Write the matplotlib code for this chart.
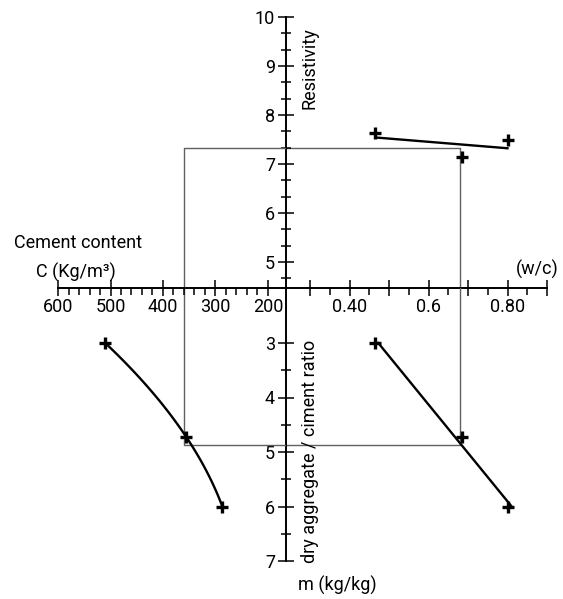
import numpy as np
import matplotlib
matplotlib.use("Agg")
import matplotlib.pyplot as plt
from matplotlib.ticker import FixedLocator, FixedFormatter, NullFormatter

plt.rcParams['font.family'] = ['Roboto', 'DejaVu Sans']

# three trial mixes
wc = [0.465, 0.685, 0.80]            # water / cement ratio
m_ratio = [3.0, 4.72, 6.0]           # dry aggregate / cement ratio
cement = [510, 356, 287]             # cement content, kg/m3
resistivity = [7.63, 7.14, 7.49]

# design reading (the rectangle)
res_read = 7.33
wc_read = 0.68
m_read = 4.87
cement_read = 360

res_ticks = [5, 6, 7, 8, 9, 10]
res_minor = [4 + 2 / 3] + [k + f for k in range(5, 10) for f in (1 / 3, 2 / 3)]
m_ticks = [3, 4, 5, 6, 7]
m_minor = [3.5, 4.5, 5.5, 6.5]
cement_ticks = [600, 500, 400, 300, 200]
cement_minor = [v for v in range(220, 600, 20) if v % 100]
wc_ticks = [0.3, 0.4, 0.5, 0.6, 0.7, 0.8, 0.9]
wc_labels = ['', '0.40', '', '0.6', '', '0.80', '']
wc_minor = [0.35, 0.45, 0.55, 0.65, 0.75, 0.85]

W, H = 563, 599
CX, CY = 286, 288
fig = plt.figure(figsize=(W / 100, H / 100), dpi=100)


# pixel -> value for each scale of the nomogram
def wc_at(px):
    return 0.3 + (px - 310) / 395


def cement_at(px):
    return 600 - (px - 58) / 0.525


def res_at(py):
    return 5 + (262 - py) / 49


def m_at(py):
    return 3 + (py - 343) / 54.5


def quad(x0, y0, x1, y1):
    ax = fig.add_axes([x0 / W, 1 - y1 / H, (x1 - x0) / W, (y1 - y0) / H])
    ax.patch.set_visible(False)
    for s in ax.spines.values():
        s.set_visible(False)
        s.set_linewidth(1.4)
    ax.tick_params(which='both', left=False, bottom=False,
                   labelleft=False, labelbottom=False, width=1.1)
    return ax


ur = quad(CX, 0, W, CY)
lr = quad(CX, CY, W, H)
ll = quad(0, CY, CX, H)
ul = quad(0, 0, CX, CY)

ur.set_xlim(wc_at(CX), wc_at(W))
ur.set_ylim(res_at(CY), res_at(0))
lr.set_xlim(wc_at(CX), wc_at(W))
lr.set_ylim(m_at(H), m_at(CY))
ll.set_xlim(cement_at(0), cement_at(CX))
ll.set_ylim(m_at(H), m_at(CY))
ul.set_xlim(cement_at(0), cement_at(CX))
ul.set_ylim(res_at(CY), res_at(0))

lab = dict(labelsize=13, pad=2)

# resistivity axis (up)
ur.spines['left'].set_visible(True)
ur.spines['left'].set_bounds(res_at(CY), 10)
ur.yaxis.set_major_locator(FixedLocator(res_ticks))
ur.yaxis.set_minor_locator(FixedLocator(res_minor))
ur.tick_params(axis='y', which='major', left=True, labelleft=True,
               direction='inout', length=12, **lab)
ur.tick_params(axis='y', which='minor', left=True, direction='inout', length=6.5)

# w/c axis (right)
ur.spines['bottom'].set_visible(True)
ur.spines['bottom'].set_bounds(wc_at(CX), 0.9)
ur.xaxis.set_major_locator(FixedLocator(wc_ticks))
ur.xaxis.set_major_formatter(FixedFormatter(wc_labels))
ur.xaxis.set_minor_locator(FixedLocator(wc_minor))
ur.tick_params(axis='x', which='major', bottom=True, labelbottom=True,
               direction='inout', length=11, **lab)
ur.tick_params(axis='x', which='minor', bottom=True, direction='out', length=5)

# m axis (down)
lr.spines['left'].set_visible(True)
lr.spines['left'].set_bounds(m_at(CY), 7)
lr.yaxis.set_major_locator(FixedLocator(m_ticks))
lr.yaxis.set_minor_locator(FixedLocator(m_minor))
lr.yaxis.set_minor_formatter(NullFormatter())
lr.tick_params(axis='y', which='major', left=True, labelleft=True,
               direction='inout', length=12, **lab)
lr.tick_params(axis='y', which='minor', left=True, direction='inout', length=6.5)

# cement axis (left)
ul.spines['bottom'].set_visible(True)
ul.spines['bottom'].set_bounds(cement_at(CX), 600)
ul.xaxis.set_major_locator(FixedLocator(cement_ticks))
ul.xaxis.set_minor_locator(FixedLocator(cement_minor))
ul.xaxis.set_minor_formatter(NullFormatter())
ul.tick_params(axis='x', which='major', bottom=True, labelbottom=True,
               direction='inout', length=11, **lab)
ul.tick_params(axis='x', which='minor', bottom=True, direction='out', length=5)

# reading rectangle
box = dict(color='#606060', lw=1.0, zorder=1)
ur.plot([wc_at(CX), wc_read, wc_read], [res_read, res_read, res_at(CY)], **box)
lr.plot([wc_at(CX), wc_read, wc_read], [m_read, m_read, m_at(CY)], **box)
ll.plot([cement_at(CX), cement_read, cement_read], [m_read, m_read, m_at(CY)], **box)
ul.plot([cement_at(CX), cement_read, cement_read], [res_read, res_read, res_at(CY)], **box)

line = dict(color='black', lw=1.7, zorder=3)
mark = dict(color='black', marker='+', ms=9, mew=2.4, ls='none', zorder=4)

# resistivity vs w/c
k = np.polyfit(wc, resistivity, 1)
xs = np.array([min(wc), max(wc)])
ur.plot(xs, np.polyval(k, xs), **line)
ur.plot(wc, resistivity, **mark)

# w/c vs m
k = np.polyfit(m_ratio, wc, 1)
ms_ = np.array([min(m_ratio), max(m_ratio)])
lr.plot(np.polyval(k, ms_), ms_, **line)
lr.plot(wc, m_ratio, **mark)

# cement content vs m
k = np.polyfit(m_ratio, cement, 2)
mm = np.linspace(min(m_ratio), max(m_ratio), 80)
ll.plot(np.polyval(k, mm), mm, **line)
ll.plot(cement, m_ratio, **mark)


def ptext(x, y, s, **kw):
    fig.text(x / W, 1 - y / H, s, ha='center', va='center', fontsize=13, **kw)


ptext(78, 243, 'Cement content')
ptext(76, 272, 'C (Kg/m³)')
ptext(537, 269, '(w/c)')
ptext(309, 68, 'Resistivity', rotation=90)
ptext(310, 451, 'dry aggregate / ciment ratio', rotation=90)
ptext(337, 585, 'm (kg/kg)')

fig.savefig('out.png', dpi=100)
